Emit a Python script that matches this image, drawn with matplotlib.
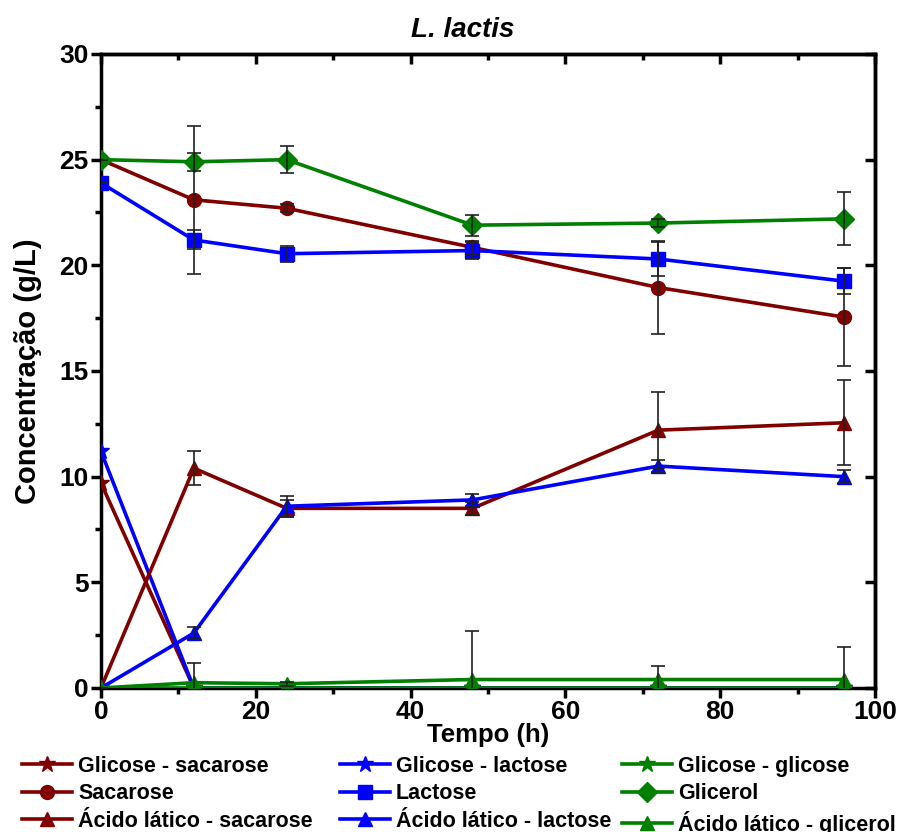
import matplotlib
matplotlib.use('Agg')
import matplotlib.pyplot as plt
import numpy as np
from matplotlib.ticker import MultipleLocator, NullFormatter

plt.rcParams['font.family'] = ['Liberation Sans', 'DejaVu Sans']
plt.rcParams['font.weight'] = 'bold'

tempo = [0, 12, 24, 48, 72, 96]

glicose_sacarose = [9.7, 0, 0, 0, 0, 0]
glicose_lactose = [11.2, 0, 0, 0, 0, 0]
glicose_glicose = [0, 0, 0, 0, 0, 0]

sacarose = [25.0, 23.1, 22.7, 20.85, 18.95, 17.55]
sacarose_err = [0, 3.5, 0.2, 0.3, 2.2, 2.3]
lactose = [23.9, 21.2, 20.55, 20.7, 20.3, 19.25]
lactose_err = [0, 0.45, 0.38, 0.4, 0.8, 0.6]
glicerol = [25.0, 24.9, 25.0, 21.9, 22.0, 22.2]
glicerol_err = [0, 0.42, 0.63, 0.5, 0.2, 1.25]

al_sacarose = [0, 10.4, 8.5, 8.5, 12.2, 12.55]
al_sacarose_err = [0, 0.8, 0.4, 0.3, 1.8, 2.0]
al_lactose = [0, 2.6, 8.6, 8.9, 10.5, 10.0]
al_lactose_err = [0, 0.3, 0.5, 0.3, 0.3, 0.3]
al_glicerol = [0, 0.25, 0.2, 0.4, 0.4, 0.4]
al_glicerol_err = [0, 0.95, 0.1, 2.3, 0.65, 1.55]

red = '#800000'
blue = '#0000ff'
green = '#008000'

fig = plt.figure(figsize=(8.99, 8.32), dpi=100)
ax = fig.add_axes([0.1123, 0.1731, 0.861, 0.762])

lw = 2.6
ms = 10

def serie(y, err, color, marker, label, msize=ms):
    ax.plot(tempo, y, color=color, marker=marker, markersize=msize, linewidth=lw, label=label, zorder=3)
    if err is not None:
        ax.errorbar(tempo, y, yerr=err, fmt='none', ecolor='#202020', elinewidth=1.2, capsize=5, capthick=1.2, zorder=4)

serie(glicose_sacarose, None, red, '*', 'Glicose - sacarose', 12)
serie(glicose_lactose, None, blue, '*', 'Glicose - lactose', 12)
serie(glicose_glicose, None, green, '*', 'Glicose - glicose', 12)
serie(sacarose, sacarose_err, red, 'o', 'Sacarose')
serie(lactose, lactose_err, blue, 's', 'Lactose')
serie(glicerol, glicerol_err, green, 'D', 'Glicerol')
serie(al_sacarose, al_sacarose_err, red, '^', 'Ácido lático - sacarose')
serie(al_lactose, al_lactose_err, blue, '^', 'Ácido lático - lactose')
serie(al_glicerol, al_glicerol_err, green, '^', 'Ácido lático - glicerol')

ax.set_xlim(0, 100)
ax.set_ylim(0, 30)
ax.xaxis.set_major_locator(MultipleLocator(20))
ax.xaxis.set_minor_locator(MultipleLocator(10))
ax.yaxis.set_major_locator(MultipleLocator(5))
ax.yaxis.set_minor_locator(MultipleLocator(2.5))

for s in ax.spines.values():
    s.set_linewidth(2.5)

ax.tick_params(axis='both', which='major', direction='out', length=7, width=2.5, labelsize=19, pad=2)
ax.tick_params(axis='both', which='minor', direction='out', length=4, width=2.5)

# top ticks (major + minor) and right ticks (major only) point inward
top = ax.secondary_xaxis('top')
top.xaxis.set_major_locator(MultipleLocator(20))
top.xaxis.set_minor_locator(MultipleLocator(10))
top.xaxis.set_major_formatter(NullFormatter())
top.tick_params(which='major', direction='in', length=7, width=2.5)
top.tick_params(which='minor', direction='in', length=4, width=2.5)
top.spines['top'].set_linewidth(2.5)

right = ax.secondary_yaxis('right')
right.yaxis.set_major_locator(MultipleLocator(5))
right.yaxis.set_major_formatter(NullFormatter())
right.tick_params(which='major', direction='in', length=7, width=2.5)
right.spines['right'].set_linewidth(2.5)

for lab in ax.get_xticklabels() + ax.get_yticklabels():
    lab.set_fontweight('bold')

ax.set_xlabel('Tempo (h)', fontsize=18.5, fontweight='bold', labelpad=-1)
ax.set_ylabel('Concentração (g/L)', fontsize=21, fontweight='bold', labelpad=12)
ax.set_title('L. lactis', fontsize=20, fontweight='bold', style='italic', pad=12, x=0.467)

# one legend per column so each column starts where it does in the original
h, l = ax.get_legend_handles_labels()
col_x = [0.0245, 0.378, 0.692]
for c in range(3):
    idx = [c, c + 3, c + 6]
    leg = fig.legend([h[i] for i in idx], [l[i] for i in idx], ncol=1,
                     loc='upper left', bbox_to_anchor=(col_x[c], 0.0915), frameon=False,
                     prop={'size': 15.5, 'weight': 'bold'}, handlelength=2.33,
                     borderpad=0, borderaxespad=0, labelspacing=0.3, handletextpad=0.28)

plt.savefig('out.png', dpi=100)
